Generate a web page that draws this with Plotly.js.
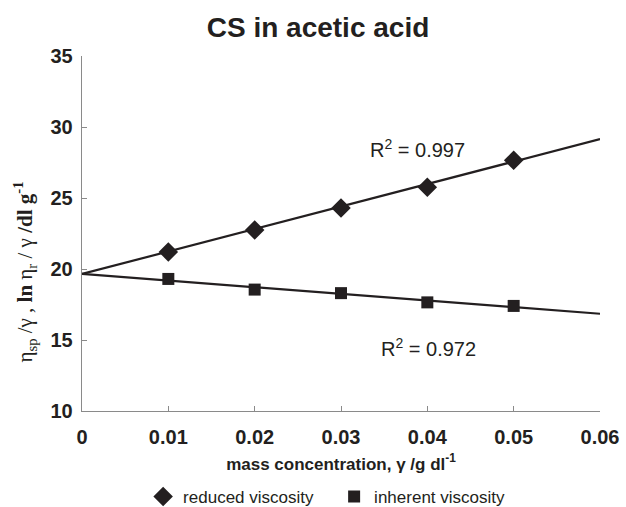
<!DOCTYPE html>
<html>
<head>
<meta charset="utf-8">
<script src="https://cdn.plot.ly/plotly-3.0.1.min.js"></script>
<style>html,body{margin:0;padding:0;background:#fff;}#chart{width:626px;height:507px;}</style>
</head>
<body>
<div id="chart"></div>
<script>
// Data
const concentration = [0.01, 0.02, 0.03, 0.04, 0.05];
const reducedViscosity = [21.2, 22.75, 24.3, 25.75, 27.65];
const inherentViscosity = [19.3, 18.55, 18.3, 17.65, 17.4];
const trendX = [0, 0.06];
const reducedTrend = [19.65, 29.15];
const inherentTrend = [19.65, 16.85];
const r2Labels = ['R<sup>2</sup> = 0.997', 'R<sup>2</sup> = 0.972'];
const r2X = [0.0389, 0.0401];
const r2Y = [28.5, 14.5];
const xTicks = [0, 0.01, 0.02, 0.03, 0.04, 0.05, 0.06];
const xTickText = ['0', '0.01', '0.02', '0.03', '0.04', '0.05', '0.06'];
const yTicks = [10, 15, 20, 25, 30, 35];
const yTitle = 'η<sub>sp</sub> /γ , <b>ln</b> η<sub>r</sub> / γ <b>/dl g<sup>-1</sup></b>';

const ink = '#231f20';
const traces = [
  {x: trendX, y: reducedTrend, mode: 'lines', line: {color: ink, width: 2.2}, showlegend: false, hoverinfo: 'skip'},
  {x: trendX, y: inherentTrend, mode: 'lines', line: {color: ink, width: 2.2}, showlegend: false, hoverinfo: 'skip'},
  {x: concentration, y: reducedViscosity, mode: 'markers', name: 'reduced viscosity',
   marker: {symbol: 'diamond', size: 15, color: ink}},
  {x: concentration, y: inherentViscosity, mode: 'markers', name: 'inherent viscosity',
   marker: {symbol: 'square', size: 12, color: ink}}
];

const annotations = r2Labels.map((t, i) => ({x: r2X[i], y: r2Y[i], xref: 'x', yref: 'y', text: t,
    showarrow: false, font: {size: 20, color: ink}}));
annotations.push({x: -0.11, y: 0.39, xref: 'paper', yref: 'paper', text: yTitle, textangle: -90,
    showarrow: false, xanchor: 'center', yanchor: 'middle',
    font: {size: 21, family: 'Liberation Serif, Times New Roman, serif', color: ink}});

const layout = {
  width: 626, height: 507,
  margin: {l: 82, r: 26, t: 56, b: 96, autoexpand: false},
  paper_bgcolor: '#fff', plot_bgcolor: '#fff',
  font: {family: 'Liberation Sans, Arial, sans-serif', color: ink},
  title: {text: '<b>CS in acetic acid</b>', font: {size: 28, color: ink}, x: 0.508, xanchor: 'center',
          yref: 'container', y: 0.947, yanchor: 'middle'},
  xaxis: {
    range: [0, 0.06], tickvals: xTicks, ticktext: xTickText,
    showline: true, linecolor: '#8a8a8a', linewidth: 1.3, showgrid: false, zeroline: false,
    ticks: 'inside', ticklen: 5, tickcolor: '#8a8a8a', ticklabelstandoff: 8,
    tickfont: {size: 20, family: 'Liberation Sans, Arial, sans-serif', weight: 'bold', color: ink},
    title: {text: '<b>mass concentration, γ /g dl<sup>-1</sup></b>', font: {size: 17, color: ink}, standoff: 10}
  },
  yaxis: {
    range: [10, 35], tickvals: yTicks,
    showline: true, linecolor: '#8a8a8a', linewidth: 1.3, showgrid: false, zeroline: false,
    ticks: 'inside', ticklen: 5, tickcolor: '#8a8a8a', ticklabelstandoff: 4,
    tickfont: {size: 20, family: 'Liberation Sans, Arial, sans-serif', weight: 'bold', color: ink}
  },
  legend: {orientation: 'h', x: 0.118, xanchor: 'left', yref: 'container', y: 0.02, yanchor: 'middle',
           font: {size: 17, color: ink}, itemwidth: 30, tracegroupgap: 0,
           entrywidth: 146, entrywidthmode: 'pixels'},
  annotations: annotations
};

Plotly.newPlot('chart', traces, layout, {displayModeBar: false, staticPlot: true});
</script>
</body>
</html>
